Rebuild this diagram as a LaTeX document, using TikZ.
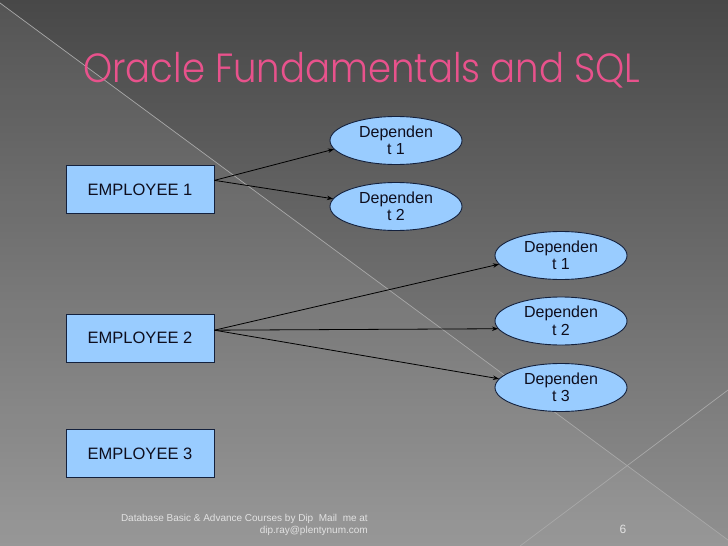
\documentclass[tikz,border=0pt]{standalone}
\usepackage{fontspec}
\setmainfont{Liberation Sans}
\IfFontExistsTF{Poppins Light}{\newfontfamily\titlefont{Poppins Light}}{\newfontfamily\titlefont{Poppins}}
\usetikzlibrary{shapes.geometric,arrows.meta,calc}
\definecolor{bgtop}{HTML}{484848}
\definecolor{bgbot}{HTML}{909090}
\definecolor{titlepink}{RGB}{232,82,140}
\definecolor{boxfill}{HTML}{99CCFF}
\definecolor{boxline}{HTML}{14213D}
\definecolor{inktext}{HTML}{0E0E1E}
\definecolor{footgray}{HTML}{E2E2E2}
\definecolor{deco}{HTML}{A8A8A8}
\tikzset{
  empbox/.style={rectangle, draw=boxline, line width=0.9pt, fill=boxfill,
    minimum width=148pt, minimum height=48pt, inner sep=0pt,
    text=inktext, font=\fontsize{16.5}{18}\selectfont},
  depell/.style={ellipse, draw=boxline, line width=0.9pt, fill=boxfill,
    minimum width=132pt, minimum height=48pt, inner sep=0pt, align=center,
    text=inktext, font=\fontsize{16}{17.5}\selectfont},
  link/.style={draw=black, line width=0.8pt, -{Stealth[length=6pt,width=4.5pt]}},
  foot/.style={text=footgray, font=\fontsize{10}{12.5}\selectfont, inner sep=0pt}
}
\begin{document}
\begin{tikzpicture}[x=1pt,y=-1pt]
\useasboundingbox (0,0) rectangle (728,546);
% background
\shade[top color=bgtop, bottom color=bgbot] (0,0) rectangle (728,546);
\fill[white, opacity=0.07] (0,3) -- (728,540) -- (728,546) -- (0,546) -- cycle;
\draw[deco, line width=0.7pt] (0,3) -- (728,540);
\draw[deco, line width=0.7pt] (520,546) -- (728,390);
% title
\node[anchor=base west, inner sep=0pt, text=titlepink] (title) at (83,82)
  {\scalebox{1}[1.1]{\resizebox{557pt}{!}{\fontsize{40}{44}\titlefont Oracle Fundamentals and SQL}}};
% employees
\node[empbox] (e1) at (140,189.5) {EMPLOYEE 1};
\node[empbox] (e2) at (140,338) {EMPLOYEE 2};
\node[empbox] (e3) at (140,453.5) {EMPLOYEE 3};
% dependents
\node[depell] (d1) at (396,140.5) {Dependen\\t 1};
\node[depell] (d2) at (396,206.5) {Dependen\\t 2};
\node[depell] (r1) at (561,255.5) {Dependen\\t 1};
\node[depell] (r2) at (561,321) {Dependen\\t 2};
\node[depell] (r3) at (561,387.5) {Dependen\\t 3};
% connectors
\draw[link] (e1.7) -- (d1.188);
\draw[link] (e1.7) -- (d2.173);
\draw[link] (e2.6) -- (r1.188);
\draw[link] (e2.6) -- (r2.187);
\draw[link] (e2.6) -- (r3.172);
% footer
\node[foot, anchor=east, align=right] (footer) at (368,525)
  {Database Basic \& Advance Courses by Dip~ Mail~ me at\\dip.ray@plentynum.com};
\node[foot, font=\fontsize{12}{14}\selectfont] (pagenum) at (623,529) {6};
\end{tikzpicture}
\end{document}
